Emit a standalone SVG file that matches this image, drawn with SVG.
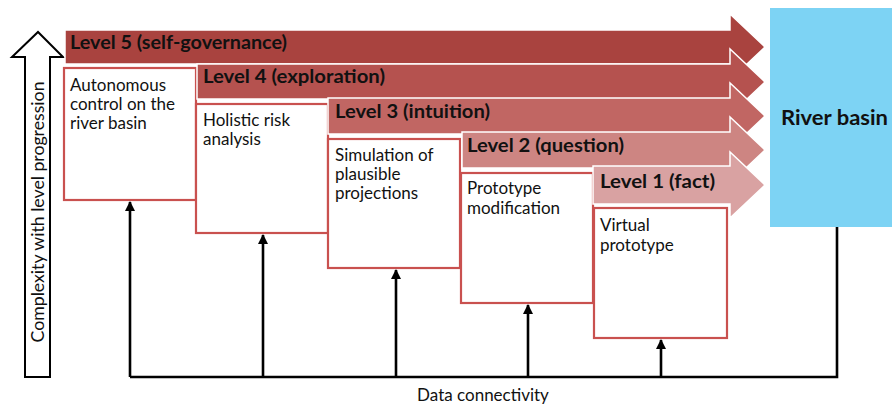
<svg xmlns="http://www.w3.org/2000/svg" width="892" height="405" viewBox="0 0 892 405">
<defs>
<style>
.lvl{stroke:#ffffff;stroke-width:1.5}
.lt{font-family:Lato,"Liberation Sans",sans-serif;font-weight:bold;font-size:18px;fill:#111}
.box{fill:#ffffff;stroke:#C9514F;stroke-width:2.2}
.bt{font-family:Lato,"Liberation Sans",sans-serif;font-size:17px;fill:#111}
.con{fill:none;stroke:#000;stroke-width:2.6}
</style>
<marker id="ah" viewBox="0 0 10 10" refX="9" refY="5" markerWidth="4" markerHeight="4" orient="auto" markerUnits="strokeWidth">
<path d="M0,0 L10,5 L0,10 z" fill="#000"/>
</marker>
</defs>
<rect width="892" height="405" fill="#ffffff"/>

<g id="axis">
<path d="M25,377 L25,57 L12,57 L38,32 L63,57 L50,57 L50,377 Z" fill="#fff" stroke="#000" stroke-width="2"/>
<text class="bt" transform="translate(44,212) rotate(-90)" text-anchor="middle" textLength="261" lengthAdjust="spacingAndGlyphs">Complexity with level progression</text>
</g>

<g id="river-basin">
<rect x="770" y="8" width="125" height="219" fill="#7DD3F4"/>
<text x="781" y="125" font-family="Lato,'Liberation Sans',sans-serif" font-weight="bold" font-size="20px" fill="#111" textLength="107" lengthAdjust="spacingAndGlyphs">River basin</text>
</g>

<g id="level5">
<path class="lvl" d="M65,30 L730,30 L730,14 L765,47 L730,80 L730,64 L65,64 Z" fill="#A9433F"/>
<text class="lt" x="70" y="49" textLength="217" lengthAdjust="spacingAndGlyphs">Level 5 (self-governance)</text>
</g>
<g id="box5">
<rect class="box" x="64" y="68" width="132" height="132"/>
<text class="bt" x="70" y="91">Autonomous</text>
<text class="bt" x="70" y="110">control on the</text>
<text class="bt" x="70" y="129">river basin</text>
</g>

<g id="level4">
<path class="lvl" d="M197,64 L730,64 L730,49 L765,82 L730,115 L730,99 L197,99 Z" fill="#B5524F"/>
<text class="lt" x="203" y="83" textLength="182" lengthAdjust="spacingAndGlyphs">Level 4 (exploration)</text>
</g>
<g id="box4">
<rect class="box" x="196" y="104" width="132" height="129"/>
<text class="bt" x="203" y="126">Holistic risk</text>
<text class="bt" x="203" y="145">analysis</text>
</g>

<g id="level3">
<path class="lvl" d="M328,98 L730,98 L730,83 L765,116 L730,149 L730,134 L328,134 Z" fill="#C16663"/>
<text class="lt" x="335" y="118" textLength="155" lengthAdjust="spacingAndGlyphs">Level 3 (intuition)</text>
</g>
<g id="box3">
<rect class="box" x="328" y="139" width="132" height="129"/>
<text class="bt" x="335" y="161">Simulation of</text>
<text class="bt" x="335" y="180">plausible</text>
<text class="bt" x="335" y="199">projections</text>
</g>

<g id="level2">
<path class="lvl" d="M462,132 L730,132 L730,117 L765,150 L730,183 L730,168 L462,168 Z" fill="#CD8582"/>
<text class="lt" x="467" y="152" textLength="157" lengthAdjust="spacingAndGlyphs">Level 2 (question)</text>
</g>
<g id="box2">
<rect class="box" x="461" y="173" width="132" height="130"/>
<text class="bt" x="467" y="194">Prototype</text>
<text class="bt" x="467" y="214">modification</text>
</g>

<g id="level1">
<path class="lvl" d="M593,166 L730,166 L730,152 L765,185 L730,218 L730,204 L593,204 Z" fill="#D9A2A2"/>
<text class="lt" x="600" y="188" textLength="115" lengthAdjust="spacingAndGlyphs">Level 1 (fact)</text>
</g>
<g id="box1">
<rect class="box" x="594" y="208" width="133" height="130"/>
<text class="bt" x="600" y="231">Virtual</text>
<text class="bt" x="600" y="251">prototype</text>
</g>

<g id="connectors">
<path class="con" d="M837,227 L837,377 L130,377"/>
<line class="con" x1="130" y1="377" x2="130" y2="202" marker-end="url(#ah)"/>
<line class="con" x1="263" y1="377" x2="263" y2="235" marker-end="url(#ah)"/>
<line class="con" x1="396" y1="377" x2="396" y2="270" marker-end="url(#ah)"/>
<line class="con" x1="528" y1="377" x2="528" y2="305" marker-end="url(#ah)"/>
<line class="con" x1="661" y1="377" x2="661" y2="340" marker-end="url(#ah)"/>
</g>
<text class="bt" x="483" y="401" text-anchor="middle">Data connectivity</text>
</svg>
